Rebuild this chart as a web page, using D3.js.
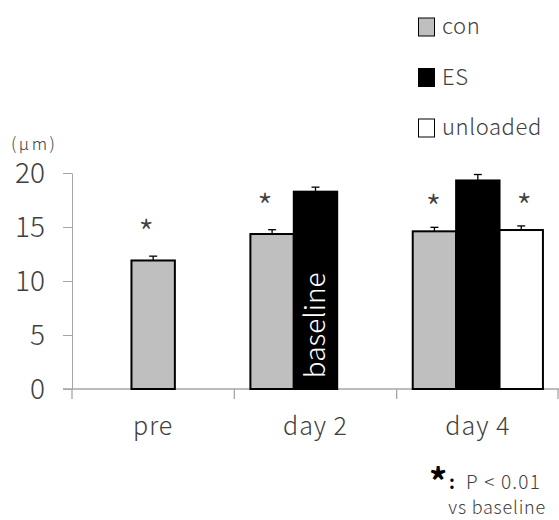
<!DOCTYPE html>
<html><head><meta charset="utf-8">
<script src="https://cdn.jsdelivr.net/npm/d3@7"></script>
<style>body{margin:0;background:#fff}svg{display:block}text{font-family:"Noto Sans CJK JP","Noto Sans",sans-serif;font-weight:300}</style>
</head><body><svg id="c" width="559" height="520"></svg>
<script>
const categories = ["pre", "day 2", "day 4"];
const seriesNames = ["con", "ES", "unloaded"];
const seriesFill = ["#bfbfbf", "#000000", "#ffffff"];
const conValues = [11.9, 14.35, 14.6];
const esValues = [null, 18.27, 19.31];
const unloadedValues = [null, null, 14.72];
const conErrors = [0.4, 0.4, 0.37];
const esErrors = [null, 0.42, 0.55];
const unloadedErrors = [null, null, 0.38];
const conSig = [true, true, true];
const unloadedSig = [false, false, true];
const yTicks = [0, 5, 10, 15, 20];

const svg = d3.select("#c");
const y = d3.scaleLinear().domain([0, 20]).range([389, 173]);
const x = d3.scaleBand().domain(categories).range([72, 559]).padding(0);
const slot = d3.scaleBand().domain(seriesNames).range([0, x.bandwidth()]).paddingInner(0).paddingOuter(0.37);
const axisCol = "#a6a6a6", textCol = "#404040";

// y axis
const yAxis = svg.append("g").attr("transform", "translate(72,0)")
  .call(d3.axisLeft(y).tickValues(yTicks).tickSize(9).tickPadding(18).tickSizeOuter(0));
yAxis.select(".domain").attr("stroke", axisCol);
yAxis.selectAll(".tick line").attr("stroke", axisCol);
yAxis.selectAll(".tick text").attr("fill", textCol).style("font-size", "28px").attr("dy", "0.35em");

// x axis baseline and category separators
svg.append("line").attr("x1", 63).attr("x2", 559).attr("y1", y(0)).attr("y2", y(0)).attr("stroke", axisCol).attr("stroke-width", 1.3);
const seps = categories.map(c => x(c)).concat([x.range()[1] - 1]);
svg.selectAll(".sep").data(seps).enter().append("line")
  .attr("x1", d => d).attr("x2", d => d).attr("y1", y(0)).attr("y2", y(0) + 10)
  .attr("stroke", axisCol).attr("stroke-width", 1.3);
svg.selectAll(".cat").data(categories).enter().append("text")
  .attr("x", d => x(d) + x.bandwidth() / 2).attr("y", 435)
  .attr("text-anchor", "middle").attr("fill", textCol).style("font-size", "25px").style("letter-spacing", "1px").text(d => d);

// bars
const valueArrays = [conValues, esValues, unloadedValues];
const errArrays = [conErrors, esErrors, unloadedErrors];
const bars = [];
categories.forEach((c, ci) => {
  const present = seriesNames.filter((s, si) => valueArrays[si][ci] != null);
  seriesNames.forEach((s, si) => {
    const v = valueArrays[si][ci];
    if (v == null) return;
    let bx = x(c) + slot(s);
    if (present.length === 1) bx = x(c) + (x.bandwidth() - slot.bandwidth()) / 2;
    bars.push({c, ci, s, si, v, e: errArrays[si][ci], bx});
  });
});
const w = slot.bandwidth();
// error bars (behind)
bars.forEach(b => {
  const cx = b.bx + w / 2;
  svg.append("line").attr("x1", cx).attr("x2", cx).attr("y1", y(b.v)).attr("y2", y(b.v + b.e)).attr("stroke", "#000").attr("stroke-width", 1.3);
  svg.append("line").attr("x1", cx - 4).attr("x2", cx + 4).attr("y1", y(b.v + b.e)).attr("y2", y(b.v + b.e)).attr("stroke", "#000").attr("stroke-width", 1.3);
});
svg.selectAll(".bar").data(bars).enter().append("rect")
  .attr("x", d => d.bx).attr("y", d => y(d.v)).attr("width", w).attr("height", d => y(0) - y(d.v))
  .attr("fill", d => seriesFill[d.si]).attr("stroke", "#000").attr("stroke-width", 2);

// baseline label inside ES day 2 bar
const esDay2 = bars.find(b => b.s === "ES" && b.c === "day 2");
svg.append("text")
  .attr("transform", `translate(${esDay2.bx + w / 2 + 9},${(y(0) + y(esDay2.v)) / 2 + 35}) rotate(-90)`)
  .attr("text-anchor", "middle").attr("fill", "#fff").style("font-size", "28px").text("baseline");

// significance asterisks
bars.forEach(b => {
  const sig = (b.s === "con" && conSig[b.ci]) || (b.s === "unloaded" && unloadedSig[b.ci]);
  if (!sig) return;
  svg.append("text").attr("x", b.bx + w / 2 + (b.ci === 2 ? (b.s === "con" ? -1 : 3) : -7))
    .attr("y", y(b.v + b.e) + (b.ci === 2 ? -32 : -36)).attr("text-anchor", "middle")
    .attr("fill", textCol).style("font-size", "36px").attr("dy", "0.75em").text("*");
});

// legend
const leg = svg.append("g");
seriesNames.forEach((s, i) => {
  const gy = 18 + i * 50.5;
  leg.append("rect").attr("x", 418.5).attr("y", gy).attr("width", 16).attr("height", 18)
    .attr("fill", seriesFill[i]).attr("stroke", "#000").attr("stroke-width", 1);
  leg.append("text").attr("x", 442).attr("y", gy + 16).attr("fill", textCol).style("font-size", "22px").style("letter-spacing", "0.6px").text(s);
});

// y unit
svg.append("text").attr("x", 11).attr("y", 150).attr("fill", textCol).style("font-size", "17px").style("letter-spacing", "2.5px").text("(μm)");

// footnote
svg.append("text").attr("x", 429).attr("y", 495).attr("fill", "#000").style("font-size", "36px").style("font-weight", "bold").text("*");
svg.append("text").attr("x", 449).attr("y", 489).attr("fill", "#000").style("font-size", "18px").style("font-weight", "bold").text(":");
svg.append("text").attr("x", 466).attr("y", 489).attr("fill", textCol).style("font-size", "19px").style("letter-spacing", "1.2px").text("P < 0.01");
svg.append("text").attr("x", 546).attr("y", 514).attr("text-anchor", "end").attr("fill", textCol).style("font-size", "18px").style("letter-spacing", "0.8px").text("vs baseline");
</script></body></html>
